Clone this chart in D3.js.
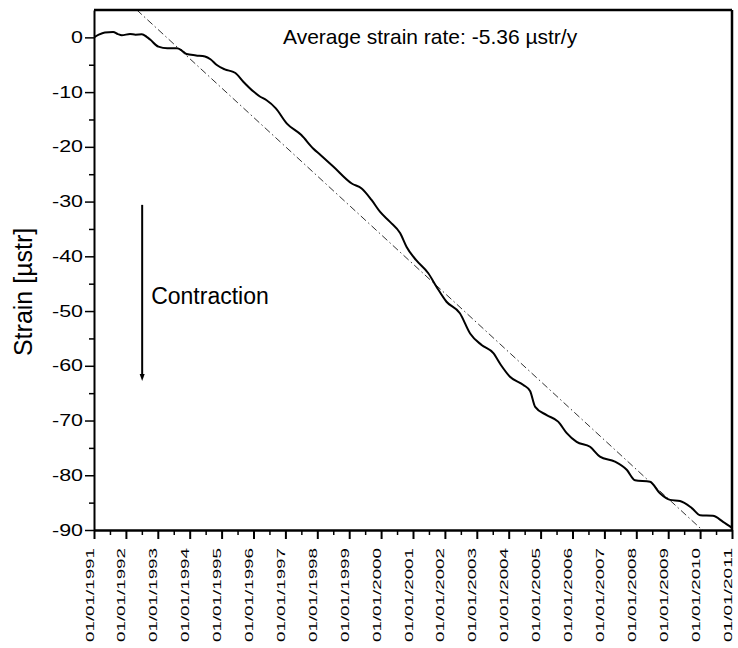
<!DOCTYPE html>
<html>
<head>
<meta charset="utf-8">
<script src="https://cdn.jsdelivr.net/npm/d3@7"></script>
<style>
  body { margin: 0; background: #fff; }
  text { font-family: "Liberation Sans", Arial, sans-serif; fill: #000; }
</style>
</head>
<body>
<svg id="chart" width="738" height="648"></svg>
<script>
// Data (decimal years, strain in µstr)
const years = [
  1991.0, 1991.15, 1991.34, 1991.6, 1991.75, 1991.87, 1992.13, 1992.3, 1992.5, 1992.65,
  1992.76, 1993.02, 1993.3, 1993.6, 1993.75, 1993.9, 1994.2, 1994.48, 1994.65, 1994.85,
  1995.1, 1995.42, 1995.68, 1996.0, 1996.2, 1996.4, 1996.7, 1997.04, 1997.5, 1997.87,
  1998.1, 1998.5, 1999.08, 1999.39, 1999.7, 1999.97, 2000.28, 2000.6, 2000.8, 2001.1,
  2001.48, 2001.74, 2002.05, 2002.47, 2002.79, 2003.15, 2003.52, 2003.75, 2004.04, 2004.46,
  2004.67, 2004.83, 2005.19, 2005.55, 2005.82, 2006.13, 2006.55, 2006.86, 2007.33, 2007.7,
  2007.96, 2008.43, 2008.74, 2009.06, 2009.37, 2009.74, 2010.0, 2010.4, 2010.72, 2011.0
];
const strain = [
  0, 0.5, 0.9, 1.0, 0.6, 0.4, 0.6, 0.5, 0.55, 0.1,
  -0.4, -1.7, -2.0, -2.0, -2.4, -3.05, -3.3, -3.5, -4.0, -5.06,
  -5.85, -6.46, -8.1, -9.9, -10.8, -11.45, -12.97, -15.7, -17.85, -20.3,
  -21.5, -23.6, -26.7, -27.6, -29.7, -31.9, -33.7, -35.8, -38.3, -40.7,
  -43.1, -45.6, -48.3, -50.4, -54.1, -56.2, -57.7, -59.8, -62.0, -63.5,
  -64.6, -67.5, -69.0, -70.2, -72.3, -73.9, -74.8, -76.6, -77.5, -79.0,
  -80.9, -81.2, -83.3, -84.5, -84.7, -86.0, -87.3, -87.4, -88.5, -89.6
];
// linear fit: strain = intercept + rate * (year - 1991)
const rate = -5.36;
const intercept = 12.2;
const fitYears = [1991, 2011];

const xTicks = d3.range(1991, 2012);
const xMinorTicks = d3.range(1991.5, 2011, 1);
const yTicks = d3.range(-90, 1, 10);
const yMinorTicks = d3.range(-85, 0, 10);

const annotation = "Average strain rate: -5.36 \u00b5str/y";
const arrowLabel = "Contraction";
const yLabel = "Strain [\u00b5str]";

// layout
const W = 738, H = 648;
const margin = { top: 10, right: 6, bottom: 118, left: 94 };

const svg = d3.select("#chart");

const x = d3.scaleLinear().domain([1991, 2011]).range([margin.left, W - margin.right]);
const y = d3.scaleLinear().domain([-90, 5]).range([H - margin.bottom, margin.top]);

// stretch text horizontally, the original font is very wide
const stretch = (sel, factor) => {
  sel.each(function () {
    const len = this.getComputedTextLength();
    d3.select(this).attr("textLength", len * factor).attr("lengthAdjust", "spacingAndGlyphs");
  });
};

// clip for the data
svg.append("clipPath").attr("id", "clip")
  .append("rect")
  .attr("x", x.range()[0]).attr("y", y.range()[1])
  .attr("width", x.range()[1] - x.range()[0])
  .attr("height", y.range()[0] - y.range()[1]);

// fit line (dash dot)
const fitLine = d3.line()
  .x((d) => x(d))
  .y((d) => y(intercept + rate * (d - 1991)));

svg.append("path")
  .datum(fitYears)
  .attr("clip-path", "url(#clip)")
  .attr("fill", "none")
  .attr("stroke", "#333")
  .attr("stroke-width", 1)
  .attr("stroke-dasharray", "7,3,1.5,3")
  .attr("d", fitLine);

// strain curve
const curve = d3.line()
  .x((d, i) => x(years[i]))
  .y((d) => y(d))
  .curve(d3.curveMonotoneX);

svg.append("path")
  .datum(strain)
  .attr("clip-path", "url(#clip)")
  .attr("fill", "none")
  .attr("stroke", "#000")
  .attr("stroke-width", 2)
  .attr("stroke-linejoin", "round")
  .attr("d", curve);

// frame top & right
svg.append("line")
  .attr("x1", x.range()[0]).attr("x2", x.range()[1])
  .attr("y1", y.range()[1]).attr("y2", y.range()[1])
  .attr("stroke", "#000").attr("stroke-width", 2.5);
svg.append("line")
  .attr("x1", x.range()[1]).attr("x2", x.range()[1])
  .attr("y1", y.range()[1]).attr("y2", y.range()[0])
  .attr("stroke", "#000").attr("stroke-width", 2.5);

// y axis
const gy = svg.append("g")
  .attr("transform", `translate(${margin.left},0)`)
  .call(d3.axisLeft(y).tickValues(yTicks).tickSize(9).tickSizeOuter(0).tickPadding(2)
    .tickFormat((d) => String(d)));
gy.select(".domain").attr("stroke-width", 2);
gy.selectAll(".tick line").attr("stroke-width", 1.5);
gy.selectAll(".tick text")
  .attr("font-family", "Liberation Sans, Arial, sans-serif")
  .attr("font-size", 16)
  .call(stretch, 1.34);

svg.append("g")
  .attr("transform", `translate(${margin.left},0)`)
  .call(d3.axisLeft(y).tickValues(yMinorTicks).tickSize(5).tickSizeOuter(0).tickFormat(""))
  .call((g) => g.select(".domain").remove())
  .selectAll(".tick line").attr("stroke-width", 1.5);

// x axis
const gx = svg.append("g")
  .attr("transform", `translate(0,${H - margin.bottom})`)
  .call(d3.axisBottom(x).tickValues(xTicks).tickSize(9).tickSizeOuter(0)
    .tickFormat((d) => "01/01/" + d));
gx.select(".domain").attr("stroke-width", 2.5);
gx.selectAll(".tick line").attr("stroke-width", 2);
gx.selectAll(".tick text")
  .attr("font-family", "Liberation Sans, Arial, sans-serif")
  .attr("font-size", 11)
  .attr("text-anchor", "end")
  .attr("transform", "rotate(-90)")
  .attr("x", -18)
  .attr("y", -1)
  .attr("dy", 0)
  .attr("textLength", 94)
  .attr("lengthAdjust", "spacingAndGlyphs");

svg.append("g")
  .attr("transform", `translate(0,${H - margin.bottom})`)
  .call(d3.axisBottom(x).tickValues(xMinorTicks).tickSize(5).tickSizeOuter(0).tickFormat(""))
  .call((g) => g.select(".domain").remove())
  .selectAll(".tick line").attr("stroke-width", 1.5);

// y label
svg.append("text")
  .attr("transform", `translate(32,${(y(-34.5) + y(-58.5)) / 2}) rotate(-90)`)
  .attr("text-anchor", "middle")
  .attr("font-size", 25)
  .text(yLabel);

// annotation
svg.append("text")
  .attr("x", 283)
  .attr("y", 44)
  .attr("font-size", 21)
  .text(annotation);

// contraction arrow
const ax = x(1992.51);
svg.append("line")
  .attr("x1", ax).attr("x2", ax)
  .attr("y1", y(-30.6)).attr("y2", y(-61.5))
  .attr("stroke", "#000").attr("stroke-width", 2);
svg.append("path")
  .attr("d", `M${ax - 2.5},${y(-61.5)} L${ax + 2.5},${y(-61.5)} L${ax},${y(-62.8)} Z`)
  .attr("fill", "#000");

svg.append("text")
  .attr("x", ax + 9)
  .attr("y", y(-48.8))
  .attr("font-size", 23)
  .text(arrowLabel);
</script>
</body>
</html>
